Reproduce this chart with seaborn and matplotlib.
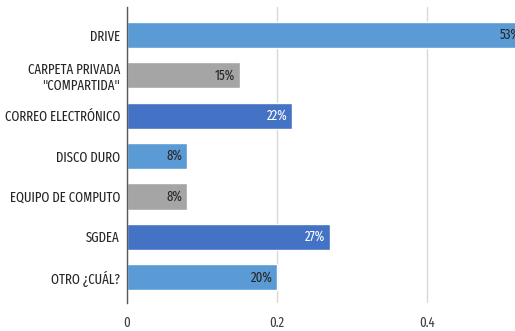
import matplotlib
matplotlib.use("Agg")
import matplotlib.pyplot as plt
import seaborn as sns
import pandas as pd

categories = ["DRIVE", "CARPETA PRIVADA\n\"COMPARTIDA\"", "CORREO ELECTRÓNICO", "DISCO DURO",
              "EQUIPO DE COMPUTO", "SGDEA", "OTRO ¿CUÁL?"]
values = [0.53, 0.15, 0.22, 0.08, 0.08, 0.27, 0.20]
labels = ["53%", "15%", "22%", "8%", "8%", "27%", "20%"]
colors = ["#5B9BD5", "#A5A5A5", "#4472C4", "#5B9BD5", "#A5A5A5", "#4472C4", "#5B9BD5"]
label_colors = ["#262626", "#262626", "white", "#262626", "#262626", "white", "#262626"]
xticks = [0, 0.2, 0.4]
xticklabels = ["0", "0.2", "0.4"]

sns.set_style("white")
plt.rcParams['font.family'] = ['Fira Sans Extra Condensed', 'DejaVu Sans']

df = pd.DataFrame({"cat": categories, "val": values})
fig = plt.figure(figsize=(5.15, 3.31), dpi=100)
ax = fig.add_axes([127/515, 28/331, 450/515, 296/331])
sns.barplot(data=df, x="val", y="cat", hue="cat", palette=colors, legend=False,
            width=0.65, ax=ax, orient="h", saturation=1)

for i, (v, t, c) in enumerate(zip(values, labels, label_colors)):
    ax.annotate(t, xy=(v, i), xytext=(-3, 0), textcoords="offset points",
                ha="right", va="center", color=c, fontsize=10, fontweight="normal")

ax.set_xlim(0, 0.6)
ax.set_ylim(6.64, -0.69)
ax.set_xticks(xticks)
ax.set_xticklabels(xticklabels, fontsize=10, color="#404040", fontweight="normal")
ax.set_yticks(range(len(categories)))
ax.set_yticklabels(categories, fontsize=10, color="#262626", fontweight="normal",
                   multialignment="right")
ax.tick_params(axis="y", length=0, pad=5)
ax.tick_params(axis="x", length=0, pad=9)
ax.set_xlabel("")
ax.set_ylabel("")
ax.grid(axis="x", color="#D9D9D9", linewidth=1)
ax.set_axisbelow(True)
for s in ["top", "right", "bottom"]:
    ax.spines[s].set_visible(False)
ax.spines["left"].set_color("#595959")
ax.spines["left"].set_linewidth(1)

fig.savefig("out.png", dpi=100)
